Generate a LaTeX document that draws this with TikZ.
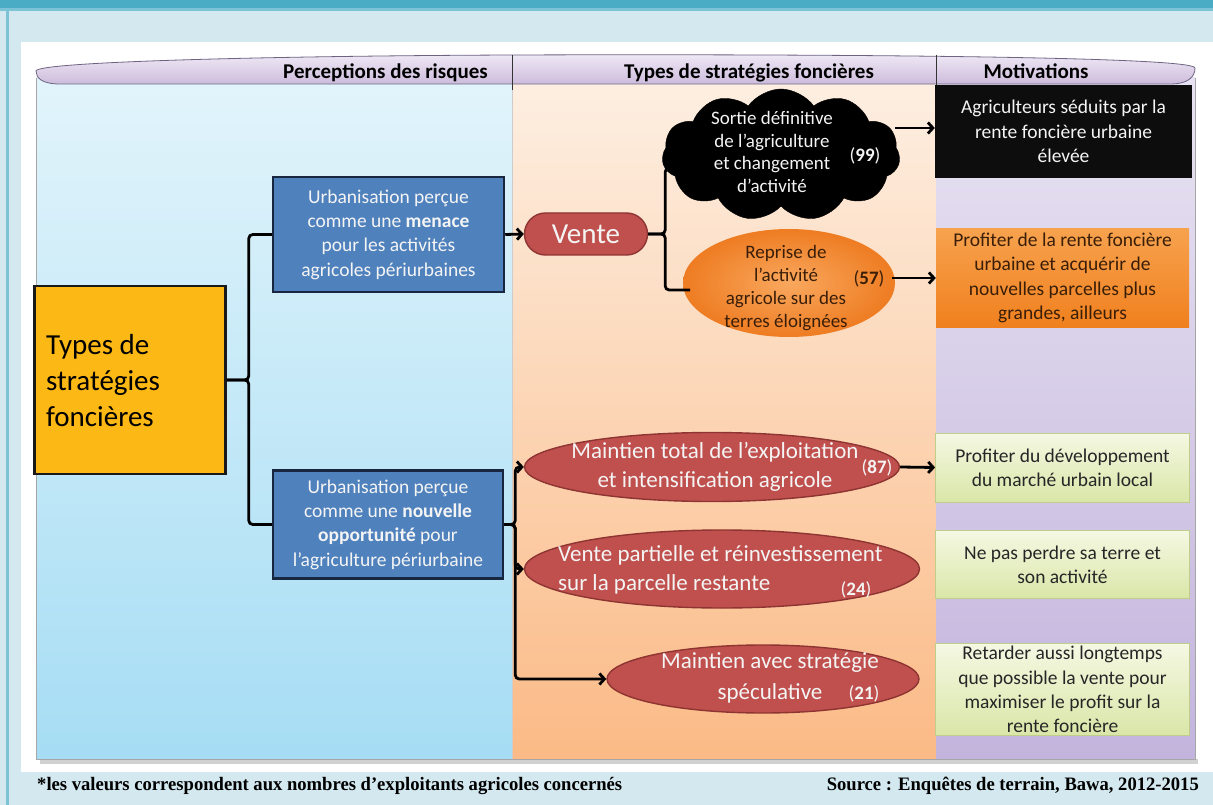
\documentclass[tikz,border=0pt]{standalone}
\usepackage{fontspec}
\setmainfont{Carlito}
\newfontfamily\footfont{Liberation Serif}
\usetikzlibrary{shapes.geometric,shapes.symbols,shapes.misc,arrows.meta}
\definecolor{bgc}{HTML}{D3E8EF}
\definecolor{tealbar}{HTML}{4BACC6}
\definecolor{teallight}{HTML}{7CC3D7}
\definecolor{cAt}{HTML}{E2F4FB}
\definecolor{cAb}{HTML}{A6DDF4}
\definecolor{cBt}{HTML}{FDEFE2}
\definecolor{cBb}{HTML}{FBBA86}
\definecolor{cCt}{HTML}{E8E3F2}
\definecolor{cCb}{HTML}{C3B4DD}
\definecolor{lensT}{HTML}{EFE9F5}
\definecolor{lensB}{HTML}{CDBCDC}
\definecolor{lensD}{HTML}{6E6482}
\definecolor{yel}{HTML}{FCB814}
\definecolor{blu}{HTML}{4F81BD}
\definecolor{bluD}{HTML}{18263F}
\definecolor{red}{HTML}{C0504D}
\definecolor{redD}{HTML}{8E3432}
\definecolor{orI}{HTML}{F9A85E}
\definecolor{orO}{HTML}{EE7C22}
\definecolor{orBt}{HTML}{F7A24E}
\definecolor{orBb}{HTML}{F0801E}
\definecolor{orTxt}{HTML}{3A1E08}
\definecolor{grT}{HTML}{F5F8E3}
\definecolor{grB}{HTML}{DAE6A8}
\definecolor{grD}{HTML}{BFCF8A}
\definecolor{wtxt}{HTML}{F4F4F4}
\tikzset{
  conn/.style={line width=2.8pt, black, rounded corners=4pt},
  arr/.style={conn, -{Straight Barb[length=5pt,width=11pt]}},
  hdr/.style={font=\fontsize{21}{24}\selectfont\bfseries, text=black, anchor=base, inner sep=0pt},
  bluebox/.style={rectangle, draw=bluD, line width=2.5pt, fill=blu, text=wtxt, align=center,
     font=\fontsize{19.5}{24.3}\selectfont, inner sep=0pt},
  redell/.style={ellipse, draw=redD, line width=1.4pt, fill=red, inner sep=0pt},
  redtxt/.style={text=wtxt, font=\fontsize{23}{29}\selectfont, inner sep=0pt},
  numw/.style={text=wtxt, font=\fontsize{19}{22}\selectfont, inner sep=0pt},
  motbox/.style={rectangle, inner sep=0pt, align=center, font=\fontsize{19.5}{24.3}\selectfont},
  greenbox/.style={motbox, top color=grT, bottom color=grB, draw=grD, line width=0.8pt, text=black!85},
}
\begin{document}
\begin{tikzpicture}[x=1pt,y=-1pt]
\useasboundingbox (0,0) rectangle (1213,805);
% frame
\fill[bgc] (0,0) rectangle (1213,805);
\fill[tealbar] (0,0) rectangle (1213,8);
\fill[teallight] (0,8) rectangle (1213,11);
\fill[teallight] (6,11) rectangle (9,805);
\fill[white] (21,42) rectangle (1213,772);
% shadow under columns
\fill[black!18] (40,759) rectangle (1198,764);
% columns
\shade[top color=cAt, bottom color=cAb] (36,78) rectangle (512,759);
\shade[top color=cBt, bottom color=cBb] (512,78) rectangle (936,759);
\shade[top color=cCt, bottom color=cCb] (936,78) rectangle (1195,759);
\draw[black!35, line width=0.7pt] (36,78) -- (36,759) -- (1195,759) -- (1195,78);
\draw[black!20, line width=0.6pt] (512,84) -- (512,759);
% lens header
\shade[top color=lensT, bottom color=lensB, draw=lensD, line width=0.8pt]
  (36,71) .. controls (36,62) and (260,56) .. (512,55)
  .. controls (800,54) and (1195,56) .. (1195,68)
  .. controls (1195,77) and (1188,84) .. (1170,84)
  -- (60,84) .. controls (42,84) and (36,78) .. (36,71) -- cycle;
\draw[black!80, line width=0.9pt] (512,55) -- (512,90);
\draw[black!80, line width=0.9pt] (936,55) -- (936,86);
\node[hdr, anchor=base east] (h1) at (488,79) {Perceptions des risques};
\node[hdr] (h2) at (749,79) {Types de stratégies foncières};
\node[hdr] (h3) at (1036,79) {Motivations};
% left column
\node[rectangle, draw=black!90, line width=2.5pt, fill=yel, minimum width=191pt, minimum height=188pt] (ys) at (130,380) {};
\node[anchor=west, align=left, font=\fontsize{29}{36}\selectfont, inner sep=0pt] (yt) at (46,381) {Types de\\stratégies\\foncières};
\node[bluebox, minimum width=231pt, minimum height=115pt] (b1) at (388.5,234.5) {Urbanisation perçue\\comme une \textbf{menace}\\pour les activités\\agricoles périurbaines};
\node[bluebox, minimum width=230pt, minimum height=108pt] (b2) at (388,524.5) {Urbanisation perçue\\comme une \textbf{nouvelle}\\\textbf{opportunité} pour\\l’agriculture périurbaine};
\draw[conn] (ys.east) -- ++(22,0) |- (b1.west);
\draw[conn] (ys.east) -- ++(22,0) |- (b2.west);
% Vente branch
\node[rounded rectangle, draw=redD, line width=1.4pt, fill=red, minimum width=123pt, minimum height=42pt, inner sep=0pt, text=wtxt, font=\fontsize{29}{32}\selectfont] (vente) at (586,234) {Vente};
\draw[arr] (b1.east) -- (vente.west);
\node[cloud, cloud puffs=11, cloud puff arc=110, cloud ignores aspect, fill=black, draw=black, minimum width=238pt, minimum height=132pt, inner sep=0pt] (cl) at (781,155) {};
\node[align=center, text=wtxt, font=\fontsize{19}{22.5}\selectfont, inner sep=0pt] (clt) at (772,152) {Sortie définitive\\de l’agriculture\\et changement\\d’activité};
\node[numw] (cln) at (865,156) {(\textbf{99})};
\node[ellipse, inner color=orI, outer color=orO, minimum width=212pt, minimum height=108pt, inner sep=0pt] (o1) at (789,283) {};
\node[align=center, text=orTxt, font=\fontsize{19}{23}\selectfont, inner sep=0pt] (o1t) at (786,288) {Reprise de\\l’activité\\agricole sur des\\terres éloignées};
\node[text=orTxt, font=\fontsize{19}{22}\selectfont, inner sep=0pt] (o1n) at (869,279) {(\textbf{57})};
\coordinate (cj) at (676,168);
\coordinate (oj) at (690,290);
\draw[conn] (vente.east) -- ++(17,0) |- (cj);
\draw[conn] (vente.east) -- ++(17,0) |- (oj);
% Motivations top
\node[motbox, fill=black!95, text=wtxt, minimum width=257pt, minimum height=93pt] (bk) at (1063.5,131.5) {Agriculteurs séduits par la\\rente foncière urbaine\\élevée};
\node[motbox, top color=orBt, bottom color=orBb, text=orTxt, minimum width=253pt, minimum height=98pt] (ob) at (1062.5,278) {Profiter de la rente foncière\\urbaine et acquérir de\\nouvelles parcelles plus\\grandes, ailleurs};
\coordinate (ca) at (895,128);
\coordinate (oa) at (892,278);
\draw[arr] (ca) -- (ca -| bk.west);
\draw[arr] (oa) -- (oa -| ob.west);
% lower strategies
\node[redell, minimum width=375pt, minimum height=69pt] (m1) at (712,467) {};
\node[redtxt, align=center] (m1t) at (715,467) {Maintien total de l’exploitation\\et intensification agricole};
\node[numw] (m1n) at (877,468) {(\textbf{87})};
\node[redell, minimum width=395pt, minimum height=78pt] (m2) at (722,569) {};
\node[redtxt, align=left, anchor=west] (m2t) at (558,570) {Vente partielle et réinvestissement\\sur la parcelle restante};
\node[numw] (m2n) at (856,590) {(\textbf{24})};
\node[redell, minimum width=312pt, minimum height=68pt] (m3) at (763,679) {};
\node[redtxt] (m3a) at (770,663) {Maintien avec stratégie};
\node[redtxt] (m3b) at (770,693) {spéculative};
\node[numw] (m3n) at (864,694) {(\textbf{21})};
\draw[arr] (b2.east) -- ++(11,0) |- (m1.west);
\draw[arr] (b2.east) -- ++(11,0) |- (m2.west);
\draw[arr] (b2.east) -- ++(11,0) |- (m3.west);
% green motivations
\node[greenbox, minimum width=254pt, minimum height=69pt] (g1) at (1062.5,467.5) {Profiter du développement\\du marché urbain local};
\node[greenbox, minimum width=254pt, minimum height=68pt] (g2) at (1062.5,564.5) {Ne pas perdre sa terre et\\son activité};
\node[greenbox, minimum width=254pt, minimum height=92pt] (g3) at (1062.5,689.5) {Retarder aussi longtemps\\que possible la vente pour\\maximiser le profit sur la\\rente foncière};
\draw[arr] (m1.east) -- (g1.west);
% footer
\node[anchor=west, inner sep=0pt] (f1) at (37,786) {\resizebox{585pt}{\height}{\footfont\bfseries\fontsize{19}{20}\selectfont *les valeurs correspondent aux nombres d’exploitants agricoles concernés}};
\node[anchor=east, inner sep=0pt] (f2) at (1199,786) {\resizebox{372pt}{\height}{\footfont\bfseries\fontsize{19}{20}\selectfont Source : Enquêtes de terrain, Bawa, 2012-2015}};
\end{tikzpicture}
\end{document}
